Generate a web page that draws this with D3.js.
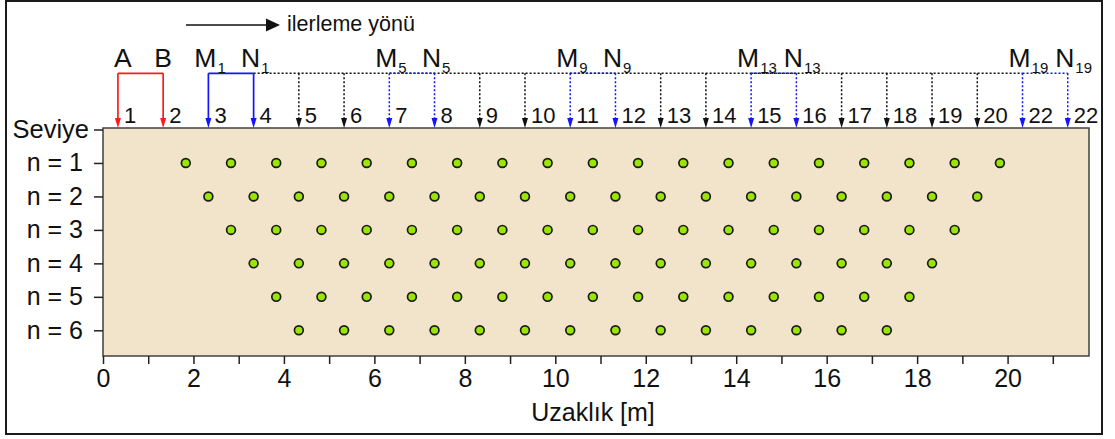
<!DOCTYPE html>
<html><head><meta charset="utf-8">
<script src="https://cdn.jsdelivr.net/npm/d3@7"></script>
<style>
html,body{margin:0;padding:0;background:#fff;}
svg{display:block;font-family:"Liberation Sans",Arial,Helvetica,sans-serif;}
</style></head>
<body>
<svg id="chart" width="1115" height="439"></svg>
<script>
// ---- data ----
const electrodePos = [0.33,1.33,2.33,3.33,4.33,5.33,6.33,7.33,8.33,9.33,10.33,11.33,12.33,13.33,14.33,15.33,16.33,17.33,18.33,19.33,20.33,21.33];
const electrodeLabels = ["1","2","3","4","5","6","7","8","9","10","11","12","13","14","15","16","17","18","19","20","22","22"];
const currentElectrodes = [1,2];
const firstPotentialElectrodes = [3,4];
const shownPotentialElectrodes = [7,8,11,12,15,16,21,22];
const labelLetters = ["A","B","M","N","M","N","M","N","M","N","M","N"];
const labelSubs = ["","","1","1","5","5","9","9","13","13","19","19"];
const labelElectrodes = [1,2,3,4,7,8,11,12,15,16,21,22];
const levels = [1,2,3,4,5,6];
const level1X = [1.83,2.83,3.83,4.83,5.83,6.83,7.83,8.83,9.83,10.83,11.83,12.83,13.83,14.83,15.83,16.83,17.83,18.83,19.83];
const level2X = [2.33,3.33,4.33,5.33,6.33,7.33,8.33,9.33,10.33,11.33,12.33,13.33,14.33,15.33,16.33,17.33,18.33,19.33];
const level3X = [2.83,3.83,4.83,5.83,6.83,7.83,8.83,9.83,10.83,11.83,12.83,13.83,14.83,15.83,16.83,17.83,18.83];
const level4X = [3.33,4.33,5.33,6.33,7.33,8.33,9.33,10.33,11.33,12.33,13.33,14.33,15.33,16.33,17.33,18.33];
const level5X = [3.83,4.83,5.83,6.83,7.83,8.83,9.83,10.83,11.83,12.83,13.83,14.83,15.83,16.83,17.83];
const level6X = [4.33,5.33,6.33,7.33,8.33,9.33,10.33,11.33,12.33,13.33,14.33,15.33,16.33,17.33];
const levelXs = [level1X,level2X,level3X,level4X,level5X,level6X];
const xTicks = [0,1,2,3,4,5,6,7,8,9,10,11,12,13,14,15,16,17,18,19,20,21];
const xTickLabels = ["0","","2","","4","","6","","8","","10","","12","","14","","16","","18","","20",""];
const yTickLabels = ["Seviye","n = 1","n = 2","n = 3","n = 4","n = 5","n = 6"];
const xTitle = "Uzaklık [m]";
const directionText = "ilerleme yönü";

// ---- layout ----
const svg = d3.select("#chart");
const plotTop = 128, plotBottom = 356, plotLeft = 103, plotRight = 1089;
const x = d3.scaleLinear().domain([0,21.8]).range([plotLeft, plotRight]);
const y = d3.scaleLinear().domain([0,6]).range([129.5, 330.3]);
const RED = "#ff1a1a", BLUE = "#1414ff";
const connY = 73.3, tipY = plotTop;
const FONT = "Liberation Sans, Arial, sans-serif";

// outer frame
svg.append("rect").attr("x",6).attr("y",1).attr("width",1096).attr("height",433)
  .attr("fill","none").attr("stroke","#1a1a1a").attr("stroke-width",2);

// plot area
svg.append("rect").attr("x",plotLeft).attr("y",plotTop).attr("width",plotRight-plotLeft).attr("height",plotBottom-plotTop)
  .attr("fill","#f2e3cb").attr("stroke","#404040").attr("stroke-width",1.5);

// x axis
const xAxis = d3.axisBottom(x).tickValues(xTicks).tickSize(8).tickPadding(5)
  .tickFormat((d,i)=>xTickLabels[i]);
const gx = svg.append("g").attr("transform",`translate(0,${plotBottom})`).call(xAxis);
gx.select(".domain").remove();
gx.selectAll(".tick line").attr("stroke","#222").attr("stroke-width",1.5);
gx.selectAll(".tick text").attr("font-size",25).attr("fill","#111").attr("font-family",FONT);

svg.append("text").attr("x",593).attr("y",421).attr("text-anchor","middle")
  .attr("font-size",25).attr("fill","#111").text(xTitle);

// y axis
const yAxis = d3.axisLeft(y).tickValues([0,...levels]).tickSize(9).tickPadding(11)
  .tickFormat((d,i)=>yTickLabels[i]);
const gy = svg.append("g").attr("transform",`translate(${plotLeft},0)`).call(yAxis);
gy.select(".domain").remove();
gy.selectAll(".tick line").attr("stroke","#222").attr("stroke-width",1.5);
gy.selectAll(".tick text").attr("font-size",25).attr("fill","#111").attr("font-family",FONT);
gy.selectAll(".tick").filter(d=>d===0).select("text").attr("font-size",25.5).attr("x",-14);

// data points
levels.forEach((lv,i)=>{
  svg.append("g").selectAll("circle").data(levelXs[i]).join("circle")
    .attr("cx",d=>x(d)).attr("cy",y(lv)).attr("r",4.4)
    .attr("fill","#9be600").attr("stroke","#1a1a1a").attr("stroke-width",1.7);
});

// electrode arrows
function styleFor(e){
  if(currentElectrodes.includes(e)) return {c:RED,dash:null};
  if(firstPotentialElectrodes.includes(e)) return {c:BLUE,dash:null};
  if(shownPotentialElectrodes.includes(e)) return {c:BLUE,dash:"2,2"};
  return {c:"#111",dash:"2,2"};
}
const ex = i=>x(electrodePos[i-1]);
svg.append("line").attr("x1",ex(4)).attr("x2",ex(21)).attr("y1",connY).attr("y2",connY)
  .attr("stroke","#111").attr("stroke-width",1.4).attr("stroke-dasharray","2,2");
svg.append("line").attr("x1",ex(1)).attr("x2",ex(2)).attr("y1",connY).attr("y2",connY)
  .attr("stroke",RED).attr("stroke-width",1.7);
svg.append("line").attr("x1",ex(3)).attr("x2",ex(4)).attr("y1",connY).attr("y2",connY)
  .attr("stroke",BLUE).attr("stroke-width",1.7);
for(let k=0;k<shownPotentialElectrodes.length;k+=2){
  svg.append("line").attr("x1",ex(shownPotentialElectrodes[k])).attr("x2",ex(shownPotentialElectrodes[k+1]))
    .attr("y1",connY).attr("y2",connY).attr("stroke",BLUE).attr("stroke-width",1.5).attr("stroke-dasharray","2,2");
}
electrodePos.forEach((p,i)=>{
  const e=i+1, s=styleFor(e), xx=x(p);
  svg.append("line").attr("x1",xx).attr("x2",xx).attr("y1",connY).attr("y2",tipY-9)
    .attr("stroke",s.c).attr("stroke-width",s.dash?1.5:1.7).attr("stroke-dasharray",s.dash);
  svg.append("path").attr("d",`M${xx-3},${tipY-10}L${xx+3},${tipY-10}L${xx},${tipY}Z`).attr("fill",s.c);
  svg.append("text").attr("x",xx+6).attr("y",122.5).attr("font-size",22).attr("fill","#111").text(electrodeLabels[i]);
});

// quadrupole labels
labelLetters.forEach((L,i)=>{
  const xx = ex(labelElectrodes[i]) - (labelSubs[i]?3:0) + (L==="A"?5:0);
  const t = svg.append("text").attr("x",xx).attr("y",66.5).attr("text-anchor","middle")
    .attr("font-size",26.5).attr("fill","#111").text(L);
  if(labelSubs[i]){
    const w = t.node().getComputedTextLength();
    svg.append("text").attr("x",xx+w/2+1).attr("y",72.5).attr("font-size",15).attr("fill","#111").text(labelSubs[i]);
  }
});

// direction arrow
svg.append("line").attr("x1",186).attr("x2",268).attr("y1",25).attr("y2",25).attr("stroke","#111").attr("stroke-width",1.7);
svg.append("path").attr("d","M266,18.5L280,25L266,31.5Z").attr("fill","#111");
svg.append("text").attr("x",287).attr("y",31).attr("font-size",21.5).attr("fill","#111").text(directionText);
</script>
</body></html>
